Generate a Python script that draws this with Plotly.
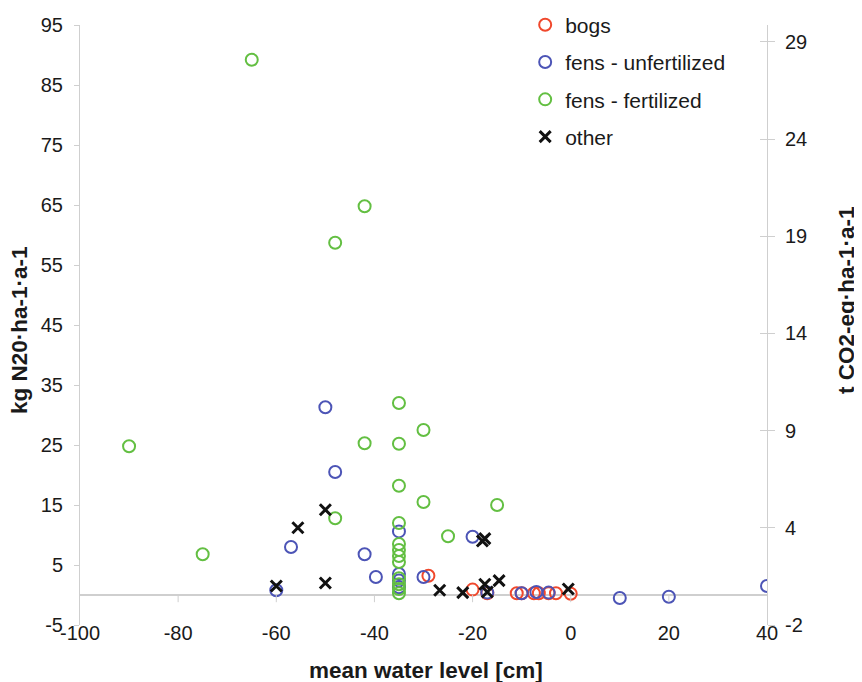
import plotly.graph_objects as go

# ---- data ----
bogs_x = [-29, -20, -17, -11, -10, -7.5, -6.5, -4.5, -3, 0]
bogs_y = [3.2, 0.9, 0.3, 0.3, 0.3, 0.3, 0.3, 0.3, 0.3, 0.2]

unfert_x = [-50, -48, -57, -42, -39.7, -35, -35, -35, -35, -30, -20, -60, -17, -10, -7, -4.5, 10, 20, 40]
unfert_y = [31.3, 20.5, 8.0, 6.8, 3.0, 10.6, 3.5, 2.4, 1.3, 3.0, 9.7, 0.8, 0.4, 0.3, 0.5, 0.4, -0.5, -0.3, 1.5]

fert_x = [-65, -42, -48, -90, -75, -42, -35, -35, -35, -30, -30, -15, -25, -48,
          -35, -35, -35, -35, -35, -35, -35, -35, -35]
fert_y = [89.2, 64.8, 58.7, 24.8, 6.8, 25.3, 32.0, 25.2, 18.2, 27.5, 15.5, 15.0, 9.8, 12.8,
          12.0, 8.5, 7.5, 6.5, 5.5, 2.8, 1.8, 1.0, 0.3]

other_x = [-50, -55.6, -60, -50, -26.7, -22, -18, -17.5, -17.5, -14.6, -17, -0.5]
other_y = [14.2, 11.2, 1.5, 2.0, 0.8, 0.4, 9.0, 9.4, 1.8, 2.4, 0.5, 1.0]

x_ticks = [-100, -80, -60, -40, -20, 0, 20, 40]
x_ticktext = ["-100", "-80", "-60", "-40", "-20", "0", "20", "40"]
y_ticks = [-5, 5, 15, 25, 35, 45, 55, 65, 75, 85, 95]
y_ticktext = ["-5", "5", "15", "25", "35", "45", "55", "65", "75", "85", "95"]
y2_tickvals = [-1.5, 3.5, 8.5, 13.5, 18.5, 23.5, 28.5]
y2_ticktext = ["-2", "4", "9", "14", "19", "24", "29"]

FONT = "Liberation Sans, Arial, sans-serif"
AX = "#cfcfcf"

fig = go.Figure()

series = [
    ("bogs", bogs_x, bogs_y, "circle-open", "#F0482C", 12, 2),
    ("fens - unfertilized", unfert_x, unfert_y, "circle-open", "#4C54B6", 12, 2),
    ("fens - fertilized", fert_x, fert_y, "circle-open", "#63BF42", 12, 2),
    ("other", other_x, other_y, "x-thin-open", "#111111", 11, 3),
]
for name, xs, ys, sym, col, sz, lw in series:
    fig.add_trace(go.Scatter(
        x=xs, y=ys, mode="markers", name=name, legendgroup=name,
        marker=dict(symbol=sym, size=sz, color=col, line=dict(color=col, width=lw)),
    ))

# dummy traces to activate the right-hand axes
fig.add_trace(go.Scatter(x=[None], y=[None], yaxis="y2", showlegend=False, hoverinfo="skip"))
fig.add_trace(go.Scatter(x=[None], y=[None], yaxis="y3", showlegend=False, hoverinfo="skip"))

# small tick marks on the zero line
for v in x_ticks[1:-1]:
    fig.add_shape(type="line", xref="x", yref="y", x0=v, x1=v, y0=0, y1=-1.2,
                  line=dict(color=AX, width=1))

TITLE_FONT = dict(size=22.5, weight="bold", family=FONT, color="#1a1a1a")

fig.update_layout(
    width=854, height=674, autosize=False,
    margin=dict(l=72, r=95, t=17, b=57, autoexpand=False),
    paper_bgcolor="white", plot_bgcolor="white",
    font=dict(family=FONT, size=20, color="#1a1a1a"),
    showlegend=True,
    legend=dict(x=0.648, y=1.034, xanchor="left", yanchor="top",
                bgcolor="rgba(0,0,0,0)", font=dict(size=21, color="#1a1a1a"),
                tracegroupgap=7),
    xaxis=dict(range=[-100, 40], tickvals=x_ticks, ticktext=x_ticktext, showline=False, ticks="",
               zeroline=False, showgrid=False, ticklabelstandoff=-6,
               tickfont=dict(size=20)),
    yaxis=dict(range=[-5, 95], tickvals=y_ticks, ticktext=y_ticktext, showline=True,
               linecolor=AX, linewidth=1,
               ticks="outside", ticklen=5, tickcolor=AX, showgrid=False,
               zeroline=True, zerolinecolor=AX, zerolinewidth=1.5,
               ticklabelstandoff=7, tickfont=dict(size=20)),
    yaxis2=dict(range=[-1.5, 29.37], overlaying="y", side="right", tickvals=y2_tickvals,
                ticktext=y2_ticktext, showline=True, linecolor=AX, linewidth=1,
                ticks="outside", ticklen=7, tickcolor=AX, showgrid=False, zeroline=False,
                ticklabelstandoff=6, tickfont=dict(size=20)),
    yaxis3=dict(range=[-1.5, 29.37], overlaying="y", side="right", tickvals=y2_tickvals[1:],
                showticklabels=False, showline=False, ticks="inside", ticklen=7,
                tickcolor=AX, showgrid=False, zeroline=False),
    annotations=[
        dict(text="mean water level [cm]", xref="paper", yref="paper", x=0.5036, y=-0.075,
             xanchor="center", yanchor="middle", showarrow=False, font=TITLE_FONT),
        dict(text="kg N20·ha-1·a-1", xref="paper", yref="paper", x=-0.0873, y=0.4917,
             xanchor="center", yanchor="middle", showarrow=False, textangle=-90,
             font=TITLE_FONT),
        dict(text="t CO2-eq·ha-1·a-1", xref="paper", yref="paper", x=1.1165, y=0.5417,
             xanchor="center", yanchor="middle", showarrow=False, textangle=-90,
             font=TITLE_FONT),
    ],
)

fig.write_html("out.html")
